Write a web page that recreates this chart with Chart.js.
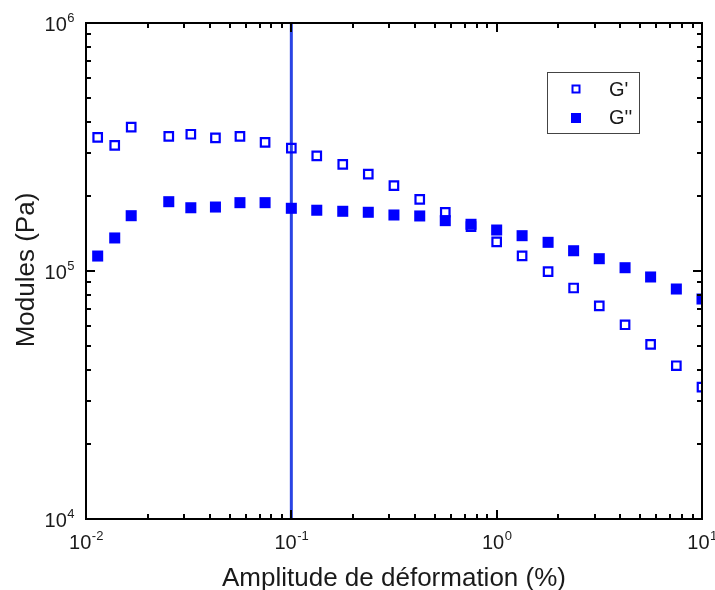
<!DOCTYPE html>
<html>
<head>
<meta charset="utf-8">
<script src="https://cdn.jsdelivr.net/npm/chart.js@4/dist/chart.umd.min.js"></script>
<style>
  body { margin: 0; background: #fff; }
</style>
</head>
<body>
<canvas id="chart1" width="715" height="590"></canvas>
<script>
// strain amplitude (%)
const strain = [0.0114, 0.0138, 0.0166, 0.0253, 0.0324, 0.0427, 0.0562, 0.0745, 0.1, 0.133, 0.178, 0.237, 0.316,
                0.422, 0.562, 0.75, 1.0, 1.33, 1.78, 2.37, 3.16, 4.22, 5.62, 7.5, 10];
// storage modulus G' (Pa)
const gPrime = [346000, 321000, 380000, 349000, 356000, 344000, 349000, 330000, 313000, 291000, 269000, 246000, 221000,
                194500, 172500, 151000, 131000, 115000, 99400, 85400, 72300, 60700, 50600, 41500, 34000];
// loss modulus G'' (Pa)
const gSecond = [114900, 135900, 167100, 190300, 179900, 181100, 188600, 188600, 179000, 175800, 174100, 172500, 168200,
                 166700, 159600, 154300, 146300, 138800, 130500, 120700, 112100, 103100, 94600, 84600, 77100];
const limitStrain = 0.1;
const xTicks = [0.01, 0.1, 1, 10];
const xTickExp = ["-2", "-1", "0", "1"];
const yTicks = [1e4, 1e5, 1e6];
const yTickExp = ["4", "5", "6"];
const labels = ["G'", "G''"];

const blue = "#0000ff";
const textColor = "#1a1a1a";
const font = "'Liberation Sans', Arial, sans-serif";

function pts(ys) {
    return strain.map((x, i) => ({ x: x, y: ys[i] }));
}

function powLabel(ctx, exp, x, y, align) {
    ctx.font = "20px " + font;
    const wb = ctx.measureText("10").width;
    ctx.font = "13px " + font;
    const we = ctx.measureText(exp).width;
    let left = x;
    if (align === "center") left = x - (wb + we) / 2;
    if (align === "right") left = x - wb - we;
    ctx.textAlign = "left";
    ctx.textBaseline = "alphabetic";
    ctx.font = "20px " + font;
    ctx.fillText("10", left, y);
    ctx.font = "13px " + font;
    ctx.fillText(exp, left + wb + 0.5, y - 9);
}

const framePlugin = {
    id: "frame",
    afterDatasetsDraw(chart) {
        const ctx = chart.ctx;
        const a = chart.chartArea;
        const xs = chart.scales.x, ys = chart.scales.y;
        ctx.save();
        ctx.strokeStyle = "#000";
        ctx.lineWidth = 2;
        ctx.strokeRect(a.left, a.top, a.right - a.left, a.bottom - a.top);

        // inward ticks on all four sides
        ctx.beginPath();
        for (let d = 0.01; d < 9; d *= 10) {
            for (let m = 1; m <= 9; m++) {
                const px = Math.round(xs.getPixelForValue(m * d));
                const len = m === 1 ? 9 : 5;
                ctx.moveTo(px, a.bottom); ctx.lineTo(px, a.bottom - len);
                ctx.moveTo(px, a.top); ctx.lineTo(px, a.top + len);
            }
        }
        for (let d = 1e4; d < 9e5; d *= 10) {
            for (let m = 1; m <= 9; m++) {
                const py = Math.round(ys.getPixelForValue(m * d));
                const len = m === 1 ? 9 : 5;
                ctx.moveTo(a.left, py); ctx.lineTo(a.left + len, py);
                ctx.moveTo(a.right, py); ctx.lineTo(a.right - len, py);
            }
        }
        ctx.stroke();

        // tick labels
        ctx.fillStyle = textColor;
        xTicks.forEach((v, i) => powLabel(ctx, xTickExp[i], xs.getPixelForValue(v), a.bottom + 30, "center"));
        yTicks.forEach((v, i) => powLabel(ctx, yTickExp[i], a.left - 12, ys.getPixelForValue(v) + 8, "right"));

        // axis titles
        ctx.font = "26px " + font;
        ctx.textAlign = "center";
        ctx.textBaseline = "alphabetic";
        ctx.fillText("Amplitude de déformation (%)", (a.left + a.right) / 2, 586);
        ctx.save();
        ctx.translate(34, 270);
        ctx.rotate(-Math.PI / 2);
        ctx.fillText("Modules (Pa)", 0, 0);
        ctx.restore();

        // legend
        ctx.fillStyle = "#fff";
        ctx.fillRect(547.5, 72.5, 92, 61);
        ctx.strokeStyle = "#444";
        ctx.lineWidth = 1;
        ctx.strokeRect(547.5, 72.5, 92, 61);
        ctx.strokeStyle = blue;
        ctx.lineWidth = 2;
        ctx.strokeRect(572.5, 85.5, 7, 7);
        ctx.fillStyle = blue;
        ctx.fillRect(571, 113, 10, 10);
        ctx.fillStyle = textColor;
        ctx.font = "20px " + font;
        ctx.textAlign = "left";
        ctx.fillText(labels[0], 609, 96);
        ctx.fillText(labels[1], 609, 124);
        ctx.restore();
    }
};

const chart1 = document.getElementById("chart1");

const scatterChart = new Chart(chart1, {
    type: "scatter",
    data: {
        datasets: [{
            label: labels[0],
            data: pts(gPrime),
            pointStyle: "rect",
            pointRadius: 6,
            backgroundColor: "rgba(0,0,0,0)",
            borderColor: blue,
            borderWidth: 2.2,
            clip: 0,
            order: 1
        }, {
            label: labels[1],
            data: pts(gSecond),
            pointStyle: "rect",
            pointRadius: 7.8,
            backgroundColor: blue,
            borderColor: blue,
            borderWidth: 0,
            clip: 0,
            order: 2
        }, {
            type: "line",
            label: "limit",
            data: [{ x: limitStrain, y: yTicks[0] }, { x: limitStrain, y: yTicks[yTicks.length - 1] }],
            borderColor: "#2a44e4",
            borderWidth: 3,
            pointRadius: 0,
            clip: 0,
            order: 3
        }]
    },
    options: {
        responsive: false,
        animation: false,
        layout: { padding: { left: 86, right: 13, top: 23, bottom: 71 } },
        plugins: {
            legend: { display: false },
            tooltip: { enabled: false }
        },
        scales: {
            x: { type: "logarithmic", min: 0.01, max: 10, display: false },
            y: { type: "logarithmic", min: 1e4, max: 1e6, display: false }
        }
    },
    plugins: [framePlugin]
});
</script>
</body>
</html>
